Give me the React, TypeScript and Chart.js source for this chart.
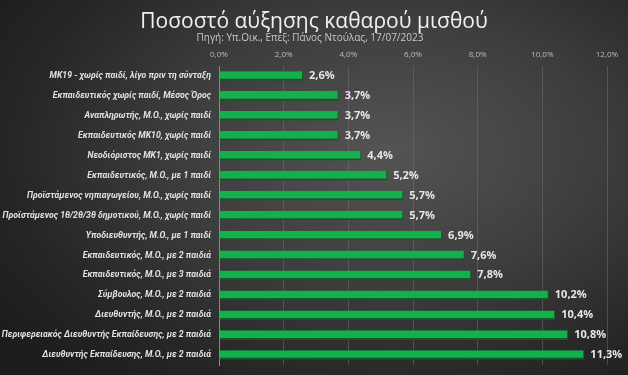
import React, { useEffect, useRef } from "react";
import { Chart, registerables } from "chart.js";

Chart.register(...registerables);

const categories: string[] = [
  "ΜΚ19 - χωρίς παιδί, λίγο πριν τη σύνταξη",
  "Εκπαιδευτικός χωρίς παιδί, Μέσος Όρος",
  "Αναπληρωτής, Μ.Ο., χωρίς παιδί",
  "Εκπαιδευτικός ΜΚ10, χωρίς παιδί",
  "Νεοδιόριστος ΜΚ1, χωρίς παιδί",
  "Εκπαιδευτικός, Μ.Ο., με 1 παιδί",
  "Προϊστάμενος νηπιαγωγείου, Μ.Ο., χωρίς παιδί",
  "Προϊστάμενος 1θ/2θ/3θ δημοτικού, Μ.Ο., χωρίς παιδί",
  "Υποδιευθυντής, Μ.Ο., με 1 παιδί",
  "Εκπαιδευτικός, Μ.Ο., με 2 παιδιά",
  "Εκπαιδευτικός, Μ.Ο., με 3 παιδιά",
  "Σύμβουλος, Μ.Ο., με 2 παιδιά",
  "Διευθυντής, Μ.Ο., με 2 παιδιά",
  "Περιφερειακός Διευθυντής Εκπαίδευσης, με 2 παιδιά",
  "Διευθυντής Εκπαίδευσης, Μ.Ο., με 2 παιδιά",
];

const increasePct: number[] = [2.6, 3.7, 3.7, 3.7, 4.4, 5.2, 5.7, 5.7, 6.9, 7.6, 7.8, 10.2, 10.4, 10.8, 11.3];

const xTicks: number[] = [0, 2, 4, 6, 8, 10, 12];

const titleText = "Ποσοστό αύξησης καθαρού μισθού";
const subtitleText = "Πηγή: Υπ.Οικ., Επεξ: Πάνος Ντούλας, 17/07/2023";

const fmt = (v: number) => v.toFixed(1).replace(".", ",") + "%";

const dataLabelPlugin = {
  id: "dataLabels",
  afterDatasetsDraw(chart: any) {
    const ctx = chart.ctx;
    const meta = chart.getDatasetMeta(0);
    ctx.save();
    ctx.font = "bold 11px 'Open Sans', sans-serif";
    ctx.fillStyle = "#e6e6e6";
    ctx.textAlign = "left";
    ctx.textBaseline = "middle";
    meta.data.forEach((bar: any, i: number) => {
      ctx.fillText(fmt(increasePct[i]), bar.x + 6, bar.y);
    });
    ctx.restore();
  },
};

export default function App() {
  const canvasRef = useRef<HTMLCanvasElement | null>(null);

  useEffect(() => {
    if (!canvasRef.current) return;
    const chart = new Chart(canvasRef.current, {
      type: "bar",
      data: {
        labels: categories,
        datasets: [
          {
            data: increasePct,
            backgroundColor: "#13b04b",
            borderColor: "#0b5e28",
            borderWidth: { top: 0, left: 0, right: 1, bottom: 2 } as any,
            borderSkipped: false,
            barPercentage: 0.48,
            categoryPercentage: 1,
          },
        ],
      },
      options: {
        indexAxis: "y",
        animation: false,
        responsive: false,
        maintainAspectRatio: false,
        layout: { padding: { left: 0, right: 21, top: 44.4, bottom: 10 } },
        plugins: {
          legend: { display: false },
          tooltip: { enabled: false },
          title: { display: false },
        },
        scales: {
          x: {
            position: "top",
            min: 0,
            max: 12,
            afterBuildTicks: (scale: any) => {
              scale.ticks = xTicks.map((v) => ({ value: v }));
            },
            afterFit: (scale: any) => {
              scale.paddingLeft = 0;
              scale.paddingRight = 0;
            },
            ticks: {
              color: "#bdbdbd",
              font: { family: "'Open Sans', sans-serif", size: 8 },
              padding: 6,
              callback: (v: any) => fmt(Number(v)),
            },
            grid: {
              color: "rgba(110,110,110,0.55)",
              drawTicks: false,
            },
            border: { display: false },
          },
          y: {
            afterFit: (scale: any) => {
              scale.width = 219;
              scale.paddingTop = 0;
              scale.paddingBottom = 0;
            },
            ticks: {
              color: "#e2e2e2",
              font: { family: "Roboto, sans-serif", size: 8.7, style: "italic", weight: "bold" },
              padding: 8,
              autoSkip: false,
            },
            grid: { display: false, drawTicks: false },
            border: { display: true, color: "#8a8a8a", width: 1 },
          },
        },
      },
      plugins: [dataLabelPlugin],
    } as any);
    return () => chart.destroy();
  }, []);

  return (
    <div
      style={{
        position: "fixed",
        left: 0,
        top: 0,
        width: 628,
        height: 375,
        overflow: "hidden",
        background:
          "radial-gradient(ellipse 75% 80% at 62% 40%, #545454 0%, #3d3d3d 45%, #262626 80%, #1d1d1d 100%)",
      }}
    >
      <div
        style={{
          position: "absolute",
          left: 0,
          width: 628,
          top: 6,
          textAlign: "center",
          color: "#f0f0f0",
          fontFamily: "'Open Sans', sans-serif",
          fontSize: 21,
          lineHeight: "28px",
        }}
      >
        {titleText}
      </div>
      <div
        style={{
          position: "absolute",
          left: 0,
          width: 620,
          top: 30,
          textAlign: "center",
          color: "#c8c8c8",
          fontFamily: "'Open Sans', sans-serif",
          fontSize: 10,
          lineHeight: "14px",
        }}
      >
        {subtitleText}
      </div>
      <canvas
        ref={canvasRef}
        width={628}
        height={375}
        style={{ display: "block", position: "absolute", left: 0, top: 0 }}
      />
    </div>
  );
}
